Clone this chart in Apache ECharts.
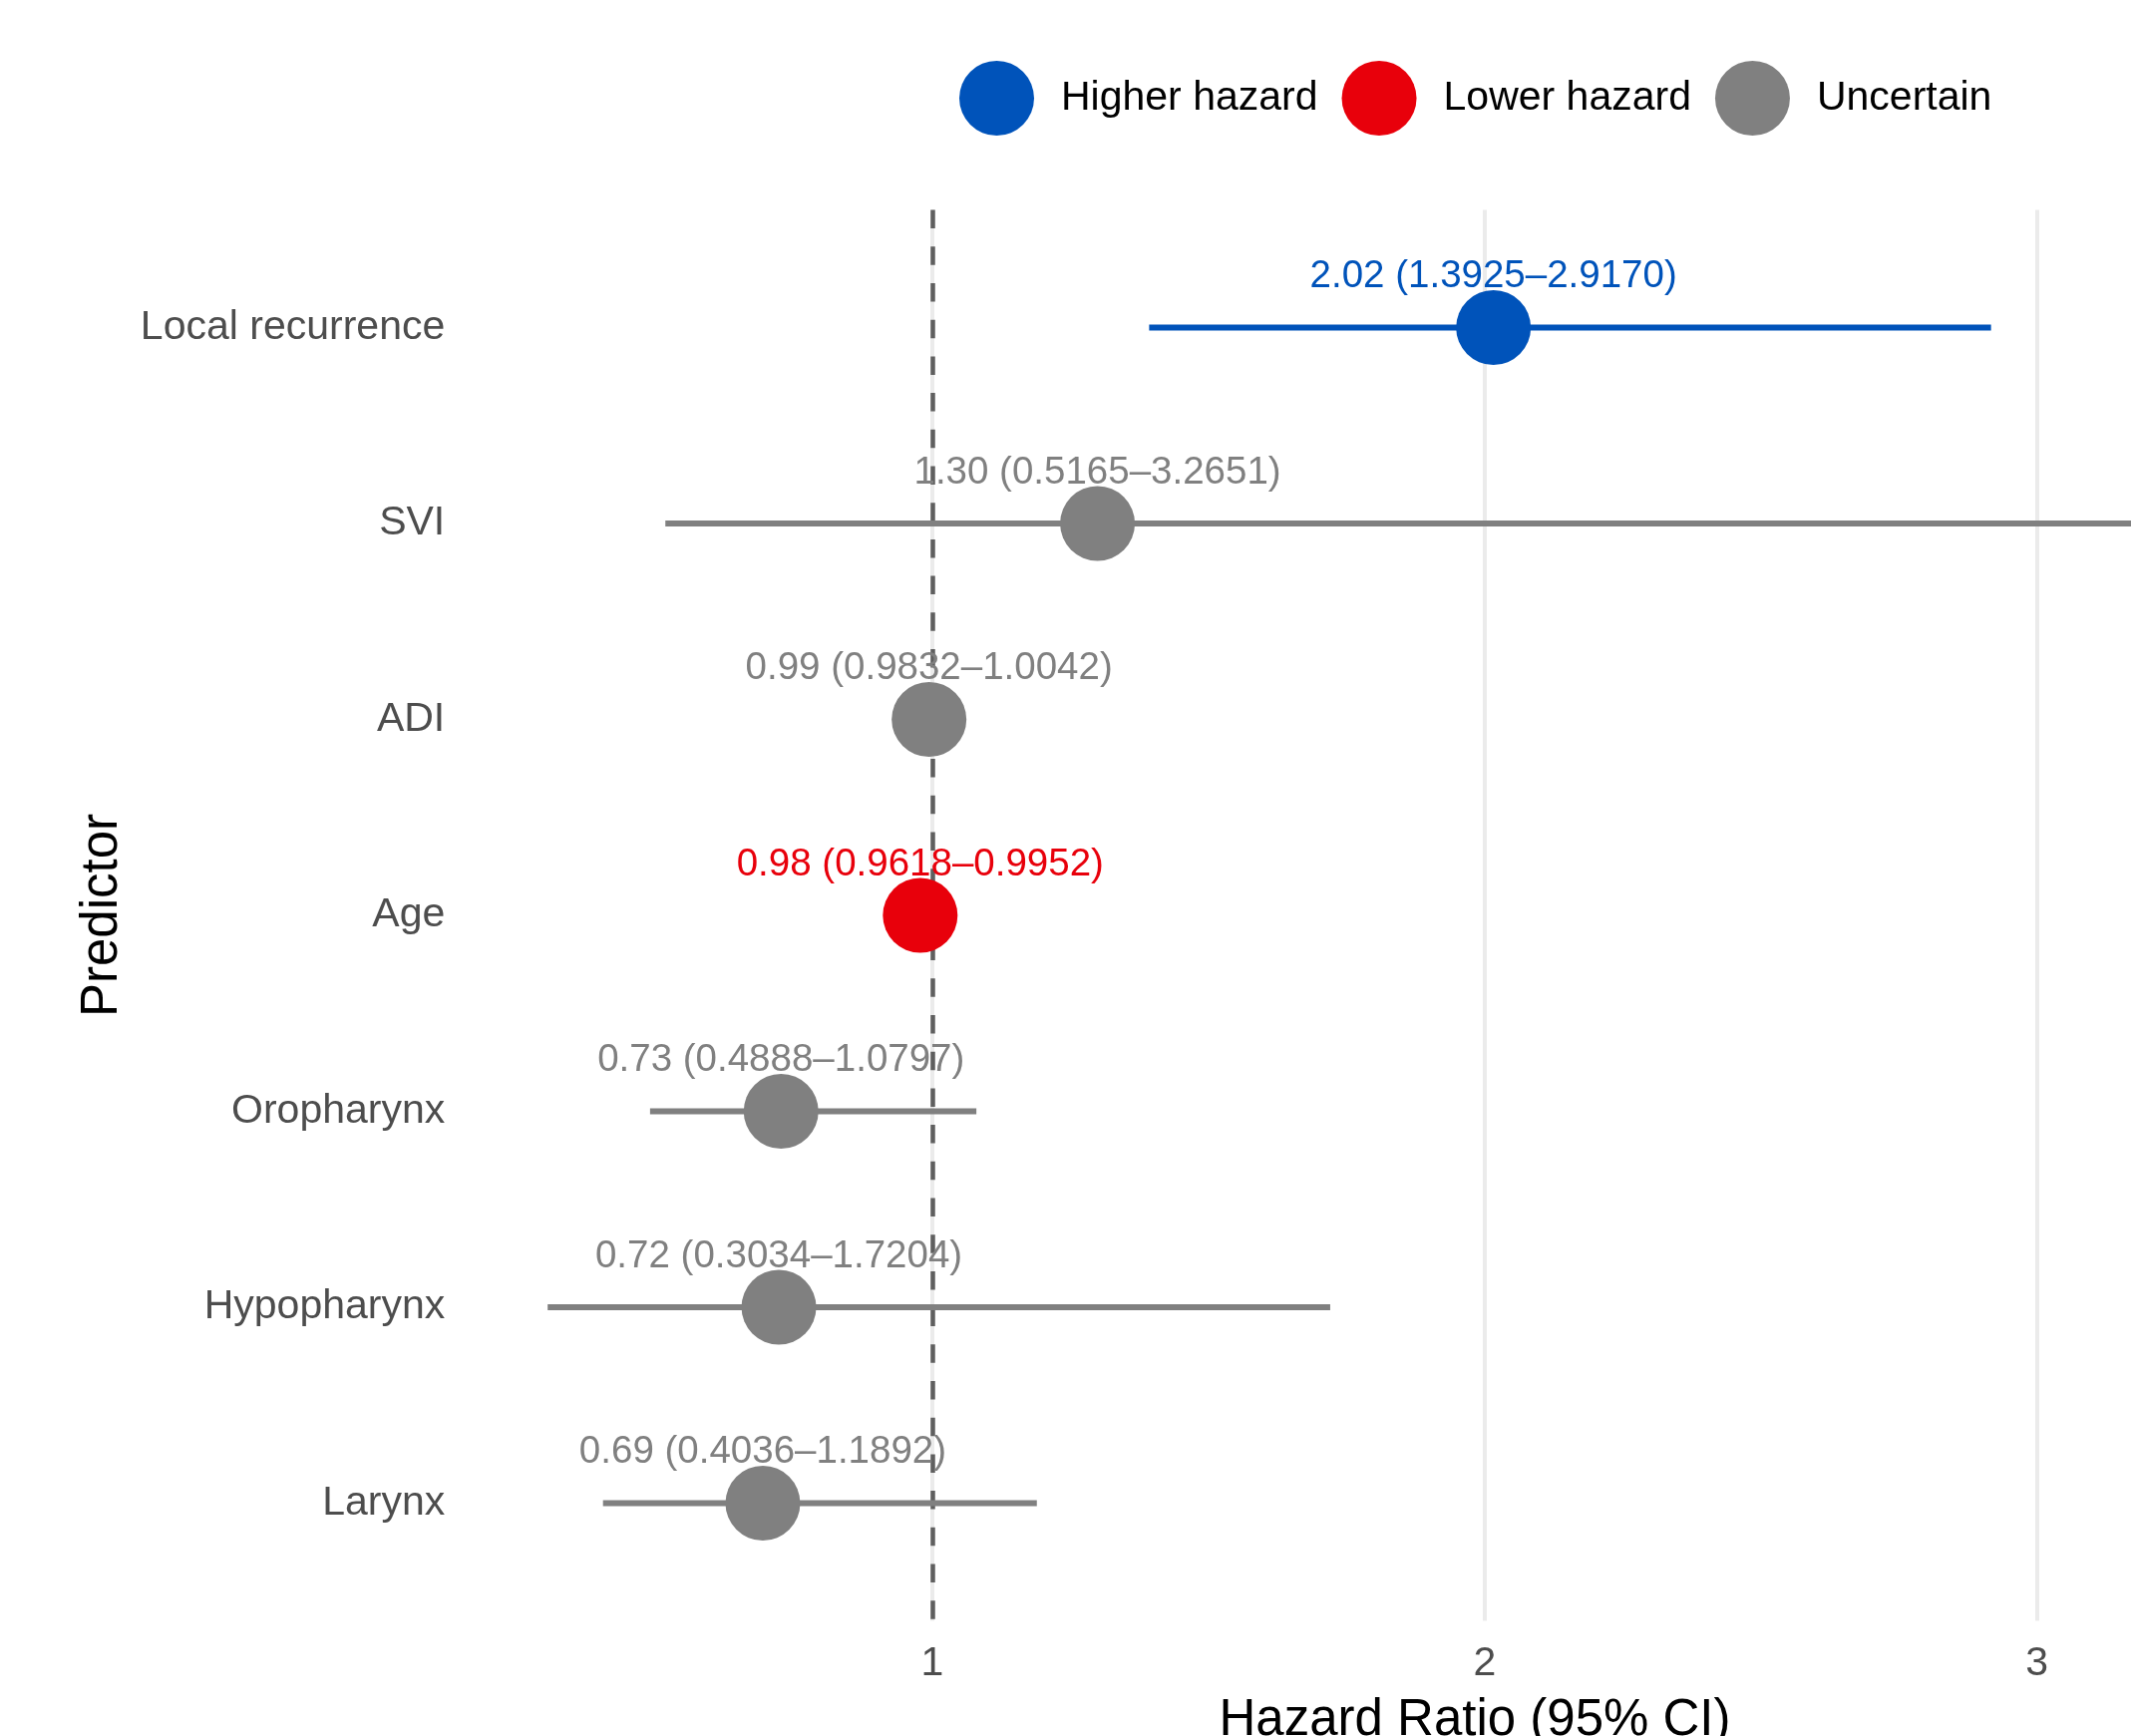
<!DOCTYPE html>
<html>
<head>
<meta charset="utf-8">
<title>Hazard ratios by predictor</title>
<script src="https://cdn.jsdelivr.net/npm/echarts@6/dist/echarts.min.js"></script>
<style>
  html, body { margin: 0; padding: 0; background: #ffffff; }
  #chart { width: 2137px; height: 1741px; }
</style>
</head>
<body>
<div id="chart"></div>
<script>
// Predictors, top to bottom
const predictors = ['Local recurrence', 'SVI', 'ADI', 'Age', 'Oropharynx', 'Hypopharynx', 'Larynx'];
// Hazard ratio point estimates
const hazardRatio = [2.016, 1.299, 0.994, 0.978, 0.726, 0.722, 0.693];
// 95% confidence interval bounds
const ciLower = [1.3925, 0.5165, 0.9832, 0.9618, 0.4888, 0.3034, 0.4036];
const ciUpper = [2.9170, 3.2651, 1.0042, 0.9952, 1.0797, 1.7204, 1.1892];
// Reference line (no effect) and x-axis gridlines
const referenceHR = 1;
const xTicks = [1, 2, 3];

const groupNames = ['Higher hazard', 'Lower hazard', 'Uncertain'];
const groupColors = { 'Higher hazard': '#0053BA', 'Lower hazard': '#E8000B', 'Uncertain': '#808080' };

const FONT = "'Liberation Sans', Arial, Helvetica, sans-serif";

function groupOf(i) {
  if (ciLower[i] > referenceHR) return 'Higher hazard';
  if (ciUpper[i] < referenceHR) return 'Lower hazard';
  return 'Uncertain';
}

function labelOf(i) {
  return hazardRatio[i].toFixed(2) + ' (' + ciLower[i].toFixed(4) + '\u2013' + ciUpper[i].toFixed(4) + ')';
}

function isWhole(v) { return Math.abs(v - Math.round(v)) < 1e-6; }

const forestSeries = groupNames.map(function (name) {
  const rows = [];
  predictors.forEach(function (_, i) { if (groupOf(i) === name) rows.push(i); });
  const color = groupColors[name];
  return {
    type: 'custom',
    name: name,
    z: 5,
    itemStyle: { color: color },
    encode: { x: [1, 2, 3], y: 0 },
    data: rows.map(function (i) { return [i, hazardRatio[i], ciLower[i], ciUpper[i]]; }),
    renderItem: function (params, api) {
      const row = rows[params.dataIndex];
      const y = api.value(0);
      const p = api.coord([api.value(1), y]);
      const lo = api.coord([api.value(2), y]);
      const hi = api.coord([api.value(3), y]);
      return {
        type: 'group',
        children: [
          { type: 'line', shape: { x1: lo[0], y1: lo[1], x2: hi[0], y2: hi[1] },
            style: { stroke: color, lineWidth: 6 } },
          { type: 'circle', shape: { cx: p[0], cy: p[1], r: 37.5 },
            style: { fill: color } },
          { type: 'text', x: p[0], y: p[1] - 51,
            style: { text: labelOf(row), fill: color, font: '38.5px ' + FONT,
                     align: 'center', verticalAlign: 'middle' } }
        ]
      };
    }
  };
});

const chart = echarts.init(document.getElementById('chart'), null, { renderer: 'canvas' });

chart.setOption({
  animation: false,
  backgroundColor: '#ffffff',
  textStyle: { fontFamily: FONT },
  grid: { left: 464.25, right: 0, top: 210.6, bottom: 115.6, containLabel: false },
  legend: {
    data: groupNames.map(function (n) { return { name: n, icon: 'circle' }; }),
    left: 962, top: 61,
    padding: 0,
    itemWidth: 75, itemHeight: 75, itemGap: 24,
    selectedMode: false,
    textStyle: { fontSize: 41, color: '#000000', fontFamily: FONT, padding: [0, 0, 0, 22] }
  },
  xAxis: {
    type: 'value',
    min: 0.15, max: 3.165, interval: 0.05,
    axisLine: { show: false },
    axisTick: { show: false },
    splitLine: { show: false },
    axisLabel: {
      fontSize: 41, color: '#4d4d4d', fontFamily: FONT, margin: 23,
      formatter: function (v) { return isWhole(v) ? String(Math.round(v)) : ''; }
    }
  },
  yAxis: {
    type: 'value',
    inverse: true,
    min: -0.6, max: 6.6, interval: 0.2,
    name: 'Predictor',
    nameLocation: 'middle',
    nameRotate: 90,
    nameGap: 336,
    nameTextStyle: { fontSize: 51, color: '#000000', fontFamily: FONT },
    axisLine: { show: false },
    axisTick: { show: false },
    splitLine: { show: false },
    axisLabel: {
      fontSize: 41, color: '#4d4d4d', fontFamily: FONT, margin: 18,
      padding: [6, 0, 0, 0],
      formatter: function (v) {
        if (!isWhole(v)) return '';
        const k = Math.round(v);
        return predictors[k] !== undefined ? predictors[k] : '';
      }
    }
  },
  graphic: [{
    type: 'text',
    x: 1479, y: 1726,
    style: { text: 'Hazard Ratio (95% CI)', font: '51px ' + FONT, fill: '#000000',
             align: 'center', verticalAlign: 'middle' }
  }],
  series: [
    {
      type: 'line', data: [], z: 1, silent: true,
      markLine: {
        silent: true, symbol: ['none', 'none'], label: { show: false },
        emphasis: { disabled: true },
        lineStyle: { color: '#ebebeb', width: 4, type: 'solid' },
        data: xTicks.map(function (t) { return { xAxis: t }; })
      }
    }
  ].concat(forestSeries).concat([
    {
      type: 'line', data: [], z: 10, silent: true,
      markLine: {
        silent: true, symbol: ['none', 'none'], label: { show: false },
        emphasis: { disabled: true },
        lineStyle: { color: '#5f5f5f', width: 4.5, type: [18.5, 18.2], dashOffset: 0 },
        data: [{ xAxis: referenceHR }]
      }
    }
  ])
});
</script>
</body>
</html>
